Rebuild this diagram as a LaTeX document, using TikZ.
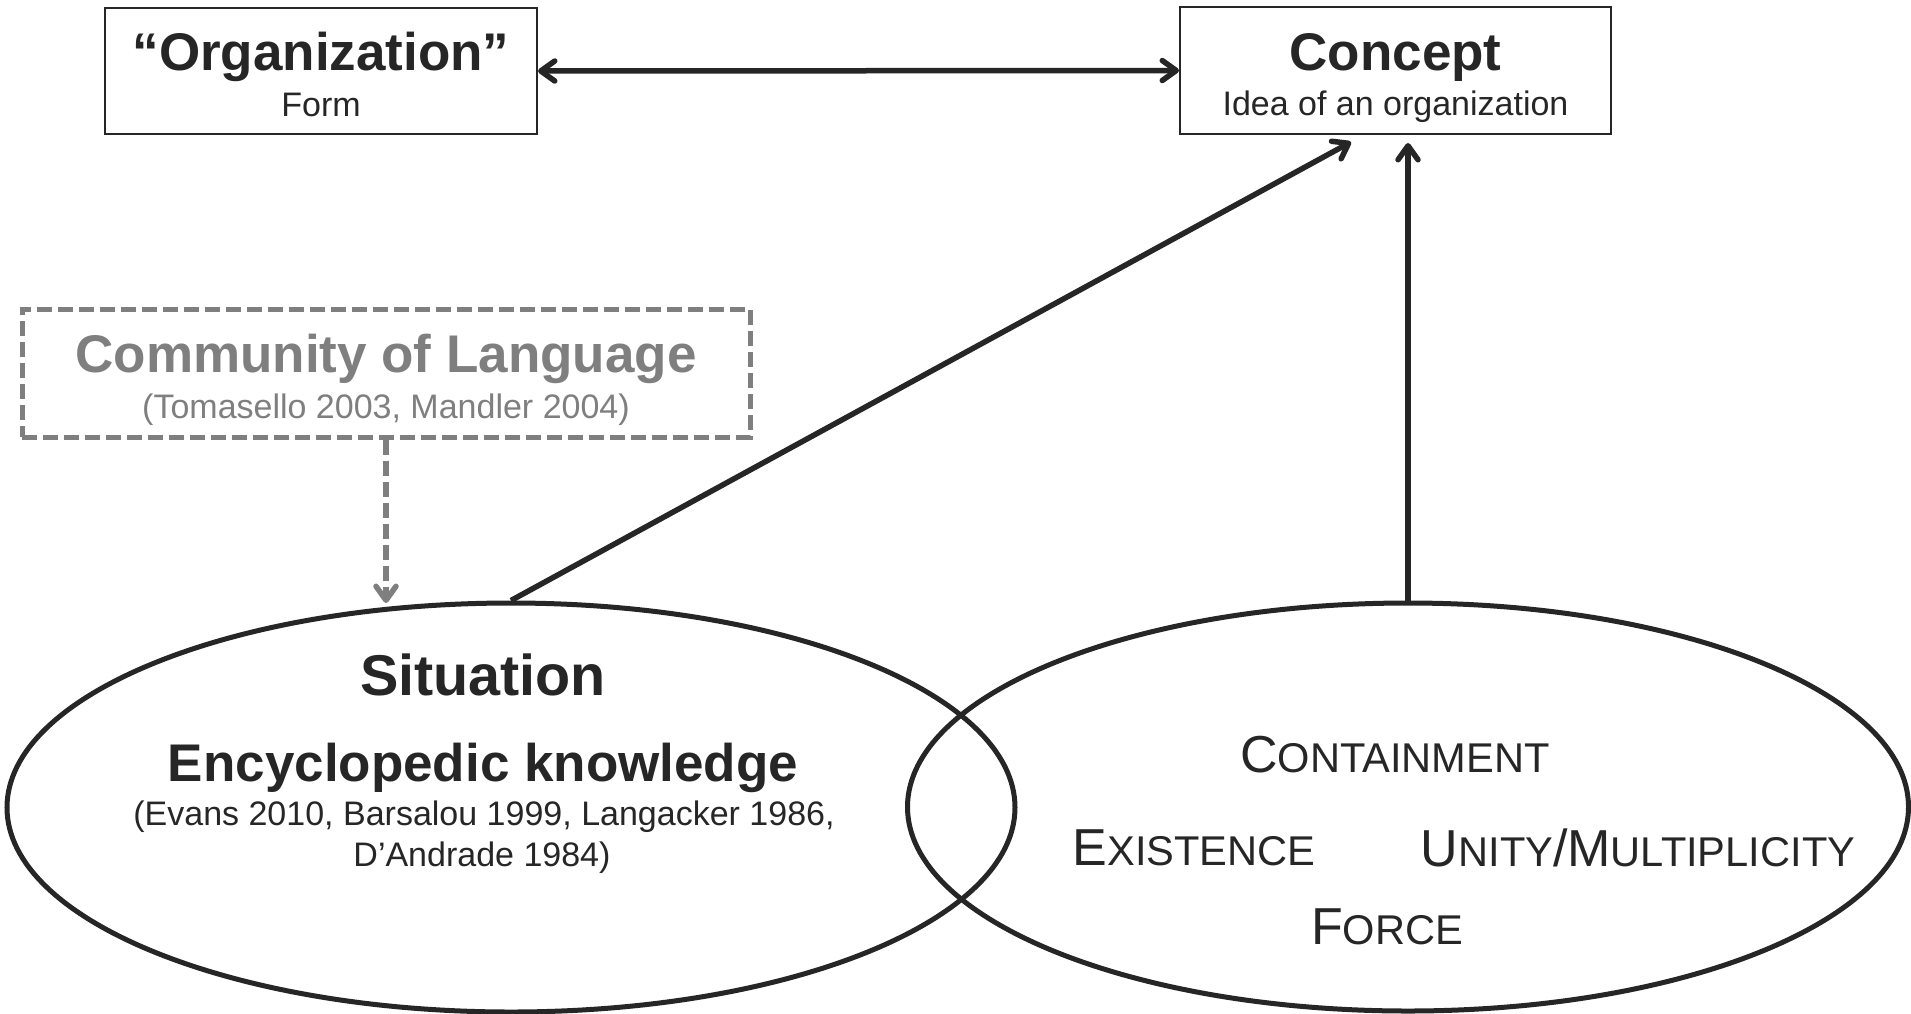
\documentclass[tikz,border=0pt]{standalone}
\usepackage{fontspec}
\setmainfont{Liberation Sans}
\usetikzlibrary{arrows.meta,shapes.geometric}
\definecolor{ink}{HTML}{262626}
\definecolor{greyc}{HTML}{7F7F7F}
\newcommand{\fsz}[1]{\fontsize{#1}{#1}\selectfont}
\newcommand{\scx}[2]{{\fsz{52}#1}{\fsz{41.6}#2}}
\begin{document}
\begin{tikzpicture}[x=1pt,y=-1pt,
  box/.style={draw=ink,line width=2pt,rectangle,inner sep=0pt},
  dbox/.style={draw=greyc,line width=5pt,rectangle,inner sep=0pt,dash pattern=on 15pt off 6pt},
  ell/.style={draw=ink,line width=5pt,ellipse,inner sep=0pt},
  ttl/.style={anchor=base,inner sep=0pt,text=ink,font=\fsz{53}\bfseries},
  sub/.style={anchor=base,inner sep=0pt,text=ink,font=\fsz{34}},
  sct/.style={anchor=base,inner sep=0pt,text=ink},
  arr/.style={draw=ink,line width=5.5pt,>={Straight Barb[length=14pt,width=20pt,round]}},
  garr/.style={draw=greyc,line width=5.5pt,dash pattern=on 15pt off 6pt,>={Straight Barb[length=14pt,width=20pt,round]}}]
\useasboundingbox (0,0) rectangle (1911,1013);
\fill[white] (0,0) rectangle (1911,1013);

% top boxes
\node[box,minimum width=432pt,minimum height=126pt] (org) at (321,71) {};
\node[ttl] (orgT) at (321,70) {“Organization”};
\node[sub] (orgS) at (321,116) {Form};

\node[box,minimum width=431pt,minimum height=127pt] (cpt) at (1395.5,70.5) {};
\node[ttl] (cptT) at (1395.5,70) {Concept};
\node[sub] (cptS) at (1395.5,115) {Idea of an organization};

\draw[arr,<->] (org.east) -- (cpt.west);

% community box
\node[dbox,minimum width=728pt,minimum height=128pt] (com) at (386,373) {};
\node[ttl,text=greyc] (comT) at (386,372) {Community of Language};
\node[sub,text=greyc] (comS) at (386,418) {(Tomasello 2003, Mandler 2004)};

% ellipses
\node[ell,minimum width=1008pt,minimum height=409pt] (sit) at (511,807.5) {};
\node[ell,minimum width=1001pt,minimum height=408pt] (frm) at (1408,807) {};

\node[ttl,font=\fsz{57.5}\bfseries] (sitT) at (483,695) {Situation};
\node[ttl] (encT) at (483,781) {Encyclopedic knowledge};
\node[sub] (encS1) at (484,825) {(Evans 2010, Barsalou 1999, Langacker 1986,};
\node[sub] (encS2) at (482,866) {D’Andrade 1984)};

\node[sct] (cont) at (1395,772) {\scx{C}{ONTAINMENT}};
\node[sct] (exis) at (1194,865) {\scx{E}{XISTENCE}};
\node[sct] (unit) at (1638,866) {\scx{U}{NITY}{\fsz{52}/}\scx{M}{ULTIPLICITY}};
\node[sct] (forc) at (1387,944) {\scx{F}{ORCE}};

% connectors
\coordinate (dEnd) at (1351,142);
\coordinate (vEnd) at (1408,143);
\coordinate (gEnd) at (386,603);
\draw[arr,->] (sit.north) -- (dEnd);
\draw[arr,->] (frm.north) -- (vEnd);
\draw[garr,->] (com.south) -- (gEnd);
\end{tikzpicture}
\end{document}
